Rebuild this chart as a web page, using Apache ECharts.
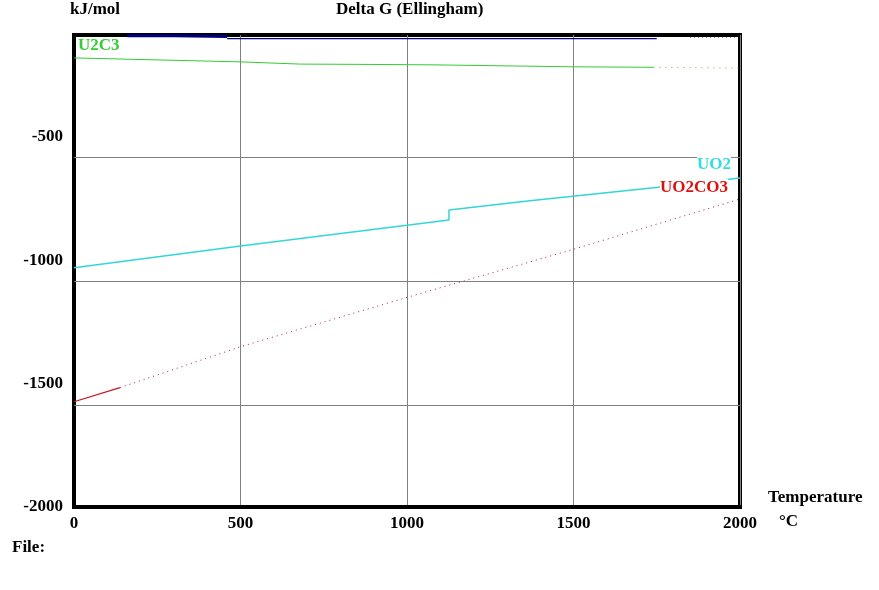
<!DOCTYPE html>
<html><head><meta charset="utf-8">
<script src="https://cdn.jsdelivr.net/npm/echarts@6/dist/echarts.min.js"></script>
<style>html,body{margin:0;padding:0;background:#fff}#c{width:879px;height:590px}</style>
</head><body><div id="c"></div>
<script>
// Temperature axis ticks (°C) and ΔG axis labels (kJ/mol)
const xTicks = [0, 500, 1000, 1500, 2000];
const yTicks = [-2000, -1500, -1000, -500];
// Horizontal grid lines as drawn in the original (offset from labels)
const gridY = [-583, -1084, -1586];

// U2C3
const u2c3T = [0, 500, 680, 850, 1075, 1076, 1500, 1740];
const u2c3G = [-179, -195, -204, -205, -207, -214, -215, -217];
const u2c3TailT = [1740, 2000];
const u2c3TailG = [-217, -220];

// UO2
const uo2T = [0, 500, 1126, 1126, 1369, 1748, 2000];
const uo2G = [-1030, -942, -836, -796, -758, -704, -666];

// UO2CO3
const uo2co3T = [0, 138];
const uo2co3G = [-1573, -1516];
const uo2co3DotT = [138, 500, 1000, 1500, 2000];
const uo2co3DotG = [-1516, -1350, -1150, -955, -751];

// Clipped curve along the top edge
const topAT = [160, 300, 460];
const topAG = [-89, -89, -92];
const topBT = [460, 1750];
const topBG = [-101, -101];
const topCT = [1850, 2000];
const topCG = [-94, -94];

const zip = (a, b) => a.map((t, i) => [t, b[i]]);
const F = '"Liberation Serif", "Times New Roman", serif';

const chart = echarts.init(document.getElementById('c'), null, {renderer: 'canvas'});
chart.setOption({
  animation: false,
  backgroundColor: '#fff',
  grid: {left: 74, right: 139, top: 35, bottom: 83, show: true, borderColor: '#000', borderWidth: 4, backgroundColor: 'transparent'},
  xAxis: {
    type: 'value', min: xTicks[0], max: xTicks[xTicks.length - 1], interval: 500,
    axisLine: {show: true, lineStyle: {color: '#000', width: 4}},
    axisTick: {show: false},
    splitLine: {show: true, lineStyle: {color: '#808080', width: 1}},
    axisLabel: {color: '#000', fontFamily: F, fontWeight: 'bold', fontSize: 17, margin: 8,
      formatter: v => xTicks.includes(v) ? String(v) : ''}
  },
  yAxis: {
    type: 'value', min: -2000, max: -86, interval: 500,
    axisLine: {show: true, lineStyle: {color: '#000', width: 4}},
    axisTick: {show: false},
    splitLine: {show: false},
    axisLabel: {color: '#000', fontFamily: F, fontWeight: 'bold', fontSize: 17, margin: 11,
      formatter: v => yTicks.includes(v) ? String(v) : ''}
  },
  series: [
    {type: 'line', z: 1, data: [[0, -2000]], showSymbol: false, lineStyle: {opacity: 0}, silent: true,
      markLine: {silent: true, symbol: 'none', label: {show: false},
        lineStyle: {color: '#808080', type: 'solid', width: 1},
        data: gridY.map(v => ({yAxis: v}))}},
    {name: 'U2C3', type: 'line', z: 3, data: zip(u2c3T, u2c3G), showSymbol: false, lineStyle: {color: '#33cc33', width: 1}},
    {type: 'line', z: 3, data: zip(u2c3TailT, u2c3TailG), showSymbol: false, lineStyle: {color: '#55bb55', width: 1, type: [1, 5]}},
    {name: 'UO2', type: 'line', z: 3, data: zip(uo2T, uo2G), showSymbol: false, lineStyle: {color: '#33d6d6', width: 1.5}},
    {name: 'UO2CO3', type: 'line', z: 3, data: zip(uo2co3T, uo2co3G), showSymbol: false, lineStyle: {color: '#cc1122', width: 1.2}},
    {type: 'line', z: 3, data: zip(uo2co3DotT, uo2co3DotG), showSymbol: false, lineStyle: {color: '#aa2233', width: 1, type: [1, 4]}},
    {type: 'line', z: 3, data: zip(topAT, topAG), showSymbol: false, lineStyle: {color: '#000080', width: 3}},
    {type: 'line', z: 3, data: zip(topBT, topBG), showSymbol: false, lineStyle: {color: '#000080', width: 1.2}},
    {type: 'line', z: 3, data: zip(topCT, topCG), showSymbol: false, lineStyle: {color: '#000', width: 1, type: [1, 3]}}
  ],
  graphic: [
    {type: 'text', left: 70, top: 1, style: {text: 'kJ/mol', font: 'bold 17px ' + F, fill: '#000'}},
    {type: 'text', left: 336, top: 1, style: {text: 'Delta G (Ellingham)', font: 'bold 17px ' + F, fill: '#000'}},
    {type: 'text', left: 768, top: 489, style: {text: 'Temperature', font: 'bold 17px ' + F, fill: '#000'}},
    {type: 'text', left: 779, top: 513, style: {text: '°C', font: 'bold 17px ' + F, fill: '#000'}},
    {type: 'text', left: 12, top: 539, style: {text: 'File:', font: 'bold 17px ' + F, fill: '#000'}},
    {type: 'text', left: 78, top: 37, z: 10, style: {text: 'U2C3', font: 'bold 17px ' + F, fill: '#33cc33'}},
    {type: 'text', left: 697, top: 156, z: 10, style: {text: 'UO2', font: 'bold 17px ' + F, fill: '#33dddd', backgroundColor: '#fff'}},
    {type: 'text', left: 660, top: 179, z: 10, style: {text: 'UO2CO3', font: 'bold 17px ' + F, fill: '#dd1111', backgroundColor: '#fff'}}
  ]
});
</script></body></html>
